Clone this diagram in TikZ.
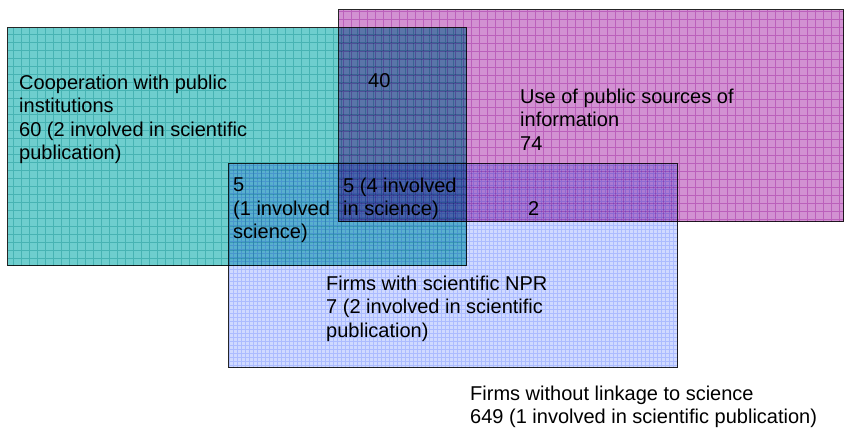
\documentclass[tikz,border=0pt]{standalone}
\usepackage{fontspec}
\setmainfont{Liberation Sans}
\usepackage{tikz}
\usetikzlibrary{positioning}
\definecolor{coopfill}{RGB}{110,206,206}
\definecolor{coopgrid}{RGB}{165,222,222}
\definecolor{pubfill}{RGB}{210,145,210}
\definecolor{pubgrid}{RGB}{228,170,228}
\definecolor{nprfill}{RGB}{208,218,255}
\definecolor{nprgrid}{RGB}{212,220,255}
\tikzset{
  setbox/.style = {rectangle, anchor=north west, draw=black!85, line width=1.1pt,
    inner sep=0pt, blend mode=multiply},
  coopset/.style = {setbox, fill=coopfill, path picture={
      \draw[coopgrid, line width=0.6pt, step=8pt]
        (path picture bounding box.south west) grid (path picture bounding box.north east);}},
  pubset/.style = {setbox, fill=pubfill, path picture={
      \draw[pubgrid, line width=0.6pt, step=8pt]
        (path picture bounding box.south west) grid (path picture bounding box.north east);}},
  nprset/.style = {setbox, fill=nprfill, path picture={
      \draw[nprgrid, line width=0.5pt, step=4pt]
        (path picture bounding box.south west) grid (path picture bounding box.north east);}},
  lbl/.style = {anchor=north west, inner sep=0pt, align=left,
    font=\fontsize{20}{23.3}\selectfont}
}
\begin{document}
\begin{tikzpicture}[x=1pt, y=-1pt]
\useasboundingbox (0,0) rectangle (847,429);

% the three sets
\node[coopset, minimum width=459pt, minimum height=238pt] (coop) at (7,27) {};
\node[pubset, minimum width=505pt, minimum height=212pt] (pub) at (338,9) {};
\node[nprset, minimum width=449pt, minimum height=204pt] (npr) at (228,163) {};

% counts
\node[lbl] (cooptxt) at (19,75) {Cooperation with public\\institutions\\60 (2 involved in scientific\\publication)};
\node[lbl] (cp) at (368,73) {40};
\node[lbl] (pubtxt) at (520,89) {Use of public sources of\\information\\74};
\node[lbl] (cn) at (233,178) {5\\(1 involved\\science)};
\node[lbl] (cpn) at (343,178) {5 (4 involved\\in science)};
\node[lbl] (pn) at (528,201) {2};
\node[lbl] (nprtxt) at (326,276) {Firms with scientific NPR\\7 (2 involved in scientific\\publication)};
\node[lbl] (none) at (470,386) {Firms without linkage to science\\649 (1 involved in scientific publication)};

\end{tikzpicture}
\end{document}
